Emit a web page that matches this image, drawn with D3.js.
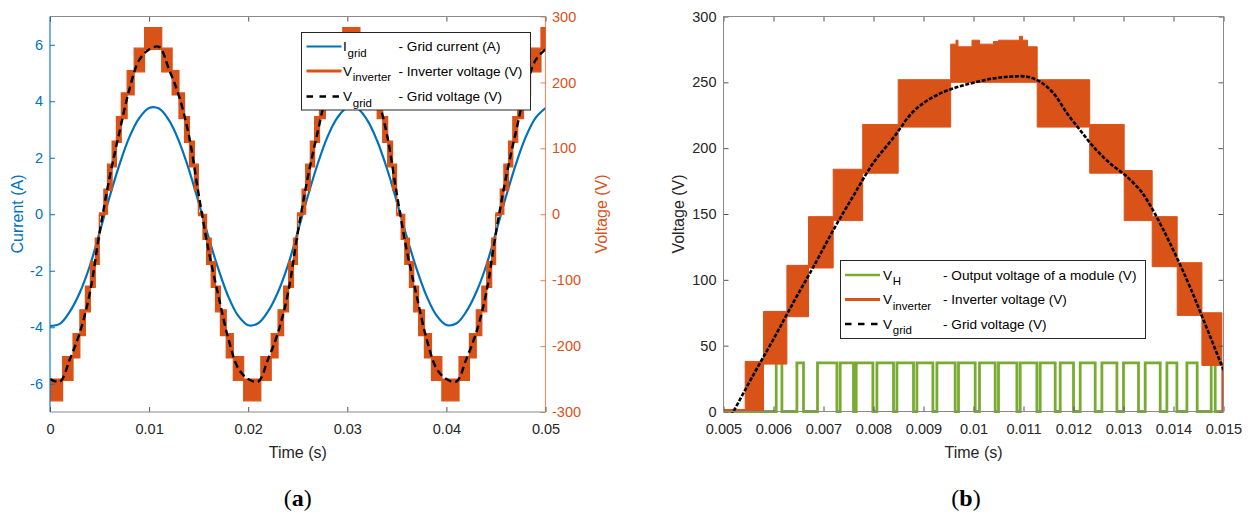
<!DOCTYPE html>
<html><head><meta charset="utf-8">
<script src="https://cdn.jsdelivr.net/npm/d3@7"></script>
<style>
body{margin:0;background:#fff;}
svg{display:block;font-family:"Liberation Sans",Arial,Helvetica,sans-serif;}
</style></head><body>
<svg id="chart" width="1248" height="515"></svg>
<script>
// ---------------- Panel (a) data ----------------
const tA = [0,0.001,0.002,0.003,0.004,0.005,0.006,0.007,0.008,0.009,0.010,0.011,0.012,0.013,0.014,0.015,0.016,0.017,0.018,0.019,0.020,0.021,0.022,0.023,0.024,0.025,0.026,0.027,0.028,0.029,0.030,0.031,0.032,0.033,0.034,0.035,0.036,0.037,0.038,0.039,0.040,0.041,0.042,0.043,0.044,0.045,0.046,0.047,0.048,0.049,0.050];
const currentA = [-3.95,-3.88,-3.45,-2.78,-1.85,-0.65,0.60,1.75,2.72,3.40,3.76,3.74,3.33,2.60,1.60,0.42,-0.82,-1.95,-2.92,-3.60,-3.93,-3.86,-3.44,-2.76,-1.82,-0.62,0.62,1.77,2.74,3.42,3.78,3.75,3.34,2.61,1.62,0.44,-0.80,-1.94,-2.90,-3.58,-3.92,-3.87,-3.45,-2.77,-1.84,-0.64,0.61,1.76,2.73,3.41,3.76];
const gridA = [-250,-254,-220,-180,-121,-28,55,124,189,234,250,254,220,180,121,30,-55,-124,-189,-234,-250,-254,-220,-180,-121,-28,55,124,189,234,250,254,220,180,121,30,-55,-124,-189,-234,-250,-254,-220,-180,-121,-28,55,124,189,234,250];
// inverter voltage levels (band low / high, V) for level -8 .. 8
const levelLow  = [-283,-252,-218,-184,-148,-111,-76,-38,-2,0,36,72,109,145,181,216,250];
const levelHigh = [-250,-216,-181,-145,-109,-72,-36,0,2,38,76,111,148,184,218,252,283];
const invTA = [0,0.001274,0.002324,0.003014,0.003574,0.004074,0.004568,0.004968,0.005,0.005434,0.0058,0.006268,0.0067,0.007194,0.007784,0.008494,0.009544,0.011274,0.012324,0.013014,0.013574,0.014074,0.014568,0.014968,0.015,0.015434,0.0158,0.016268,0.0167,0.017194,0.017784,0.018494,0.019544,0.021274,0.022324,0.023014,0.023574,0.024074,0.024568,0.024968,0.025,0.025434,0.0258,0.026268,0.0267,0.027194,0.027784,0.028494,0.029544,0.031274,0.032324,0.033014,0.033574,0.034074,0.034568,0.034968,0.035,0.035434,0.0358,0.036268,0.0367,0.037194,0.037784,0.038494,0.039544,0.041274,0.042324,0.043014,0.043574,0.044074,0.044568,0.044968,0.045,0.045434,0.0458,0.046268,0.0467,0.047194,0.047784,0.048494,0.049544,0.05];
const invLevelA = [-8,-7,-6,-5,-4,-3,-2,-1,0,1,2,3,4,5,6,7,8,7,6,5,4,3,2,1,0,-1,-2,-3,-4,-5,-6,-7,-8,-7,-6,-5,-4,-3,-2,-1,0,1,2,3,4,5,6,7,8,7,6,5,4,3,2,1,0,-1,-2,-3,-4,-5,-6,-7,-8,-7,-6,-5,-4,-3,-2,-1,0,1,2,3,4,5,6,7,8,8];
const xTicksA = [0,0.01,0.02,0.03,0.04,0.05];
const xTickLabelsA = ["0","0.01","0.02","0.03","0.04","0.05"];
const yTicksAI = [-6,-4,-2,0,2,4,6];
const yTickLabelsAI = ["-6","-4","-2","0","2","4","6"];
const yTicksAV = [-300,-200,-100,0,100,200,300];
const yTickLabelsAV = ["-300","-200","-100","0","100","200","300"];

// ---------------- Panel (b) data ----------------
const greenT = [0.005,0.006054,0.006168,0.006468,0.0066,0.00688,0.007268,0.007334,0.0076,0.007654,0.007988,0.008068,0.0084,0.008468,0.0088,0.008868,0.009188,0.009268,0.009634,0.0097,0.010034,0.01012,0.010434,0.0105,0.010868,0.010934,0.011268,0.011334,0.011634,0.011734,0.012,0.012134,0.012434,0.012568,0.012868,0.013,0.0133,0.013434,0.013734,0.013868,0.014068,0.014268,0.014474,0.014754,0.014834,0.015];
const greenV = [0,37,0,37,0,37,0,37,0,37,0,37,0,37,0,37,0,37,0,37,0,37,0,37,0,37,0,37,0,37,0,37,0,37,0,37,0,37,0,37,0,37,0,37,0,0];
const invTB  = [0.005,0.005434,0.0058,0.006268,0.0067,0.007194,0.007784,0.008494,0.009544,0.00965,0.00969,0.00997,0.01012,0.0104,0.0105,0.01092,0.01098,0.01108,0.011274,0.012324,0.013014,0.013574,0.014074,0.014568,0.014968,0.015];
const invLoB = [0,0,36,72,109,145,181,216,250,250,250,250,250,250,250,250,250,250,216,181,145,110,73,35,0,0];
const invHiB = [1.5,38,76,111,148,184,218,252,279,282,277,282,279,281,282,285,282,277,252,218,183,148,113,75,37,37];
const gridTB = [0.0051,0.0052,0.0056,0.006,0.0064,0.0068,0.0072,0.0076,0.008,0.0084,0.0088,0.0092,0.0096,0.01,0.0104,0.01073,0.01107,0.01133,0.0116,0.01187,0.01213,0.0124,0.01273,0.01307,0.01333,0.01347,0.0138,0.01427,0.0146,0.015];
const gridB  = [-7,0,28,55,83,110,138,164,189,208,228,239,245.5,249.7,253,254.3,254.3,250.5,241.7,226.5,213.8,201,188.5,178.3,168.2,160.6,137.8,99.9,69.5,31.5];
const xTicksB = [0.005,0.006,0.007,0.008,0.009,0.01,0.011,0.012,0.013,0.014,0.015];
const xTickLabelsB = ["0.005","0.006","0.007","0.008","0.009","0.01","0.011","0.012","0.013","0.014","0.015"];
const yTicksB = [0,50,100,150,200,250,300];
const yTickLabelsB = ["0","50","100","150","200","250","300"];

// ---------------- drawing ----------------
const BLUE = "#0072BD", ORANGE = "#D95319", GREEN = "#77AC30", TXT = "#262626", BORDER = "#8a8a8a";
const svg = d3.select("#chart");
const defs = svg.append("defs");

function styleAxis(g, color, size) {
  g.select(".domain").remove();
  g.selectAll(".tick line").attr("stroke", color === null ? "#555" : color).attr("stroke-width", 1);
  g.selectAll(".tick text").attr("fill", color === null ? TXT : color)
    .style("font-size", size + "px").style("font-family", '"Liberation Sans", Arial, sans-serif');
  g.attr("font-family", null).attr("font-size", null);
}

// ===== Panel (a) =====
const xA = d3.scaleLinear().domain([0, 0.05]).range([50, 545.5]);
const yAI = d3.scaleLinear().domain([-7, 7]).range([412, 16.5]);
const yAV = d3.scaleLinear().domain([-300, 300]).range([412, 16.5]);

defs.append("clipPath").attr("id", "clipA").append("rect")
  .attr("x", 50).attr("y", 16.5).attr("width", 495.5).attr("height", 395.5);
const pA = svg.append("g").attr("clip-path", "url(#clipA)");

pA.append("path")
  .attr("d", d3.line().x((d, i) => xA(tA[i])).y(d => yAI(d)).curve(d3.curveCatmullRom)(currentA))
  .attr("fill", "none").attr("stroke", BLUE).attr("stroke-width", 2.2);

const invDataA = invTA.map((t, i) => ({t: t, lo: levelLow[invLevelA[i] + 8], hi: levelHigh[invLevelA[i] + 8]}));
pA.append("path")
  .attr("d", d3.area().x(d => xA(d.t)).y0(d => yAV(d.lo)).y1(d => yAV(d.hi)).curve(d3.curveStepAfter)(invDataA))
  .attr("fill", ORANGE).attr("stroke", ORANGE).attr("stroke-width", 1.2);

pA.append("path")
  .attr("d", d3.line().x((d, i) => xA(tA[i])).y(d => yAV(d)).curve(d3.curveCatmullRom)(gridA))
  .attr("fill", "none").attr("stroke", "#000").attr("stroke-width", 2.4).attr("stroke-dasharray", "7,4");

// axes (a)
const gxA = svg.append("g").attr("transform", "translate(0,412)")
  .call(d3.axisBottom(xA).tickValues(xTicksA).tickFormat((d, i) => xTickLabelsA[i]).tickSize(-5).tickPadding(12));
styleAxis(gxA, null, 14.5);
const gxAt = svg.append("g").attr("transform", "translate(0,16.5)")
  .call(d3.axisTop(xA).tickValues(xTicksA).tickFormat("").tickSize(-5));
styleAxis(gxAt, null, 14.5);
const gyAI = svg.append("g").attr("transform", "translate(50,0)")
  .call(d3.axisLeft(yAI).tickValues(yTicksAI).tickFormat((d, i) => yTickLabelsAI[i]).tickSize(-5).tickPadding(7));
styleAxis(gyAI, BLUE, 14.5);
const gyAV = svg.append("g").attr("transform", "translate(545.5,0)")
  .call(d3.axisRight(yAV).tickValues(yTicksAV).tickFormat((d, i) => yTickLabelsAV[i]).tickSize(-5).tickPadding(6.5));
styleAxis(gyAV, ORANGE, 14.5);
gyAV.selectAll(".tick line").attr("stroke-opacity", 0.7);

svg.append("line").attr("x1", 50).attr("x2", 545.5).attr("y1", 412).attr("y2", 412).attr("stroke", BORDER);
svg.append("line").attr("x1", 50).attr("x2", 545.5).attr("y1", 16.5).attr("y2", 16.5).attr("stroke", BORDER);
svg.append("line").attr("x1", 50).attr("x2", 50).attr("y1", 16.5).attr("y2", 412).attr("stroke", BLUE).attr("stroke-width", 1.1);
svg.append("line").attr("x1", 545.5).attr("x2", 545.5).attr("y1", 16.5).attr("y2", 412).attr("stroke", ORANGE).attr("stroke-opacity", 0.65).attr("stroke-width", 1.1);

svg.append("text").attr("transform", "translate(17,214) rotate(-90)").attr("text-anchor", "middle")
  .attr("dominant-baseline", "central").attr("fill", BLUE).style("font-size", "16px").text("Current (A)");
svg.append("text").attr("transform", "translate(601.5,214) rotate(-90)").attr("text-anchor", "middle")
  .attr("dominant-baseline", "central").attr("fill", ORANGE).style("font-size", "16px").text("Voltage (V)");
svg.append("text").attr("x", 297.75).attr("y", 457.5).attr("text-anchor", "middle")
  .attr("fill", TXT).style("font-size", "16px").text("Time (s)");

// legend helper
function legend(box, rows) {
  svg.append("rect").attr("x", box.x).attr("y", box.y).attr("width", box.w).attr("height", box.h)
    .attr("fill", "#fff").attr("stroke", "#262626").attr("stroke-width", 1);
  rows.forEach(r => {
    const l = svg.append("line").attr("x1", box.lx0).attr("x2", box.lx1).attr("y1", r.y).attr("y2", r.y)
      .attr("stroke", r.color).attr("stroke-width", r.w);
    if (r.dash) l.attr("stroke-dasharray", r.dash);
    svg.append("text").attr("x", box.mx).attr("y", r.y + 4.5).attr("fill", "#000")
      .style("font-size", "13.6px").text(r.main);
    svg.append("text").attr("x", box.mx + (r.main === "I" ? 4.5 : 9.8)).attr("y", r.y + 10).attr("fill", "#000")
      .style("font-size", "11.5px").text(r.sub);
    svg.append("text").attr("x", box.dx).attr("y", r.y + 4.5).attr("fill", "#000")
      .style("font-size", "13.6px").text(r.desc);
  });
}
legend({x: 301.5, y: 32.5, w: 229, h: 77.5, lx0: 306.5, lx1: 341.5, mx: 343, dx: 398.5}, [
  {y: 46.5, color: BLUE, w: 2, main: "I", sub: "grid", desc: "- Grid current (A)"},
  {y: 71, color: ORANGE, w: 3.2, main: "V", sub: "inverter", desc: "- Inverter voltage (V)"},
  {y: 96.5, color: "#000", w: 2.6, dash: "6.5,6.5", main: "V", sub: "grid", desc: "- Grid voltage (V)"}
]);

// ===== Panel (b) =====
const xB = d3.scaleLinear().domain([0.005, 0.015]).range([723.5, 1223.5]);
const yB = d3.scaleLinear().domain([0, 300]).range([411.5, 16.5]);

defs.append("clipPath").attr("id", "clipB").append("rect")
  .attr("x", 723.5).attr("y", 16.5).attr("width", 500).attr("height", 396.5);
const pB = svg.append("g").attr("clip-path", "url(#clipB)");

pB.append("path")
  .attr("d", d3.line().x((d, i) => xB(greenT[i])).y(d => yB(d)).curve(d3.curveStepAfter)(greenV))
  .attr("fill", "none").attr("stroke", GREEN).attr("stroke-width", 2.8);

const invDataB = invTB.map((t, i) => ({t: t, lo: invLoB[i], hi: invHiB[i]}));
pB.append("path")
  .attr("d", d3.area().x(d => xB(d.t)).y0(d => yB(d.lo)).y1(d => yB(d.hi)).curve(d3.curveStepAfter)(invDataB))
  .attr("fill", ORANGE).attr("stroke", ORANGE).attr("stroke-width", 1);

pB.append("path")
  .attr("d", d3.line().x((d, i) => xB(gridTB[i])).y(d => yB(d)).curve(d3.curveCatmullRom)(gridB))
  .attr("fill", "none").attr("stroke", "#000").attr("stroke-width", 2.6).attr("stroke-dasharray", "4,1.6");

const gxB = svg.append("g").attr("transform", "translate(0,411.5)")
  .call(d3.axisBottom(xB).tickValues(xTicksB).tickFormat((d, i) => xTickLabelsB[i]).tickSize(-5).tickPadding(12.5));
styleAxis(gxB, null, 14.5);
const gxBt = svg.append("g").attr("transform", "translate(0,16.5)")
  .call(d3.axisTop(xB).tickValues(xTicksB).tickFormat("").tickSize(-5));
styleAxis(gxBt, null, 14.5);
const gyB = svg.append("g").attr("transform", "translate(723.5,0)")
  .call(d3.axisLeft(yB).tickValues(yTicksB).tickFormat((d, i) => yTickLabelsB[i]).tickSize(-5).tickPadding(7));
styleAxis(gyB, null, 14.5);
const gyBr = svg.append("g").attr("transform", "translate(1223.5,0)")
  .call(d3.axisRight(yB).tickValues(yTicksB).tickFormat("").tickSize(-5));
styleAxis(gyBr, null, 14.5);

svg.append("rect").attr("x", 723.5).attr("y", 16.5).attr("width", 500).attr("height", 395)
  .attr("fill", "none").attr("stroke", BORDER).attr("stroke-width", 1);

svg.append("text").attr("transform", "translate(678,214) rotate(-90)").attr("text-anchor", "middle")
  .attr("dominant-baseline", "central").attr("fill", TXT).style("font-size", "16px").text("Voltage (V)");
svg.append("text").attr("x", 973.5).attr("y", 457.5).attr("text-anchor", "middle")
  .attr("fill", TXT).style("font-size", "16px").text("Time (s)");

legend({x: 840.5, y: 260.5, w: 305, h: 78, lx0: 845, lx1: 880, mx: 883, dx: 943}, [
  {y: 275, color: GREEN, w: 2.4, main: "V", sub: "H", desc: "- Output voltage of a module (V)"},
  {y: 299.5, color: ORANGE, w: 3.2, main: "V", sub: "inverter", desc: "- Inverter voltage (V)"},
  {y: 324, color: "#000", w: 2.6, dash: "6.5,6.5", main: "V", sub: "grid", desc: "- Grid voltage (V)"}
]);

// panel captions
function caption(x, letter) {
  const t = svg.append("text").attr("x", x).attr("y", 506).attr("text-anchor", "middle")
    .style("font-family", '"Liberation Serif", "DejaVu Serif", serif').style("font-size", "24px").attr("fill", "#000");
  t.append("tspan").text("(");
  t.append("tspan").attr("font-weight", "bold").text(letter);
  t.append("tspan").text(")");
}
caption(297.75, "a");
caption(966, "b");
</script>
</body></html>
